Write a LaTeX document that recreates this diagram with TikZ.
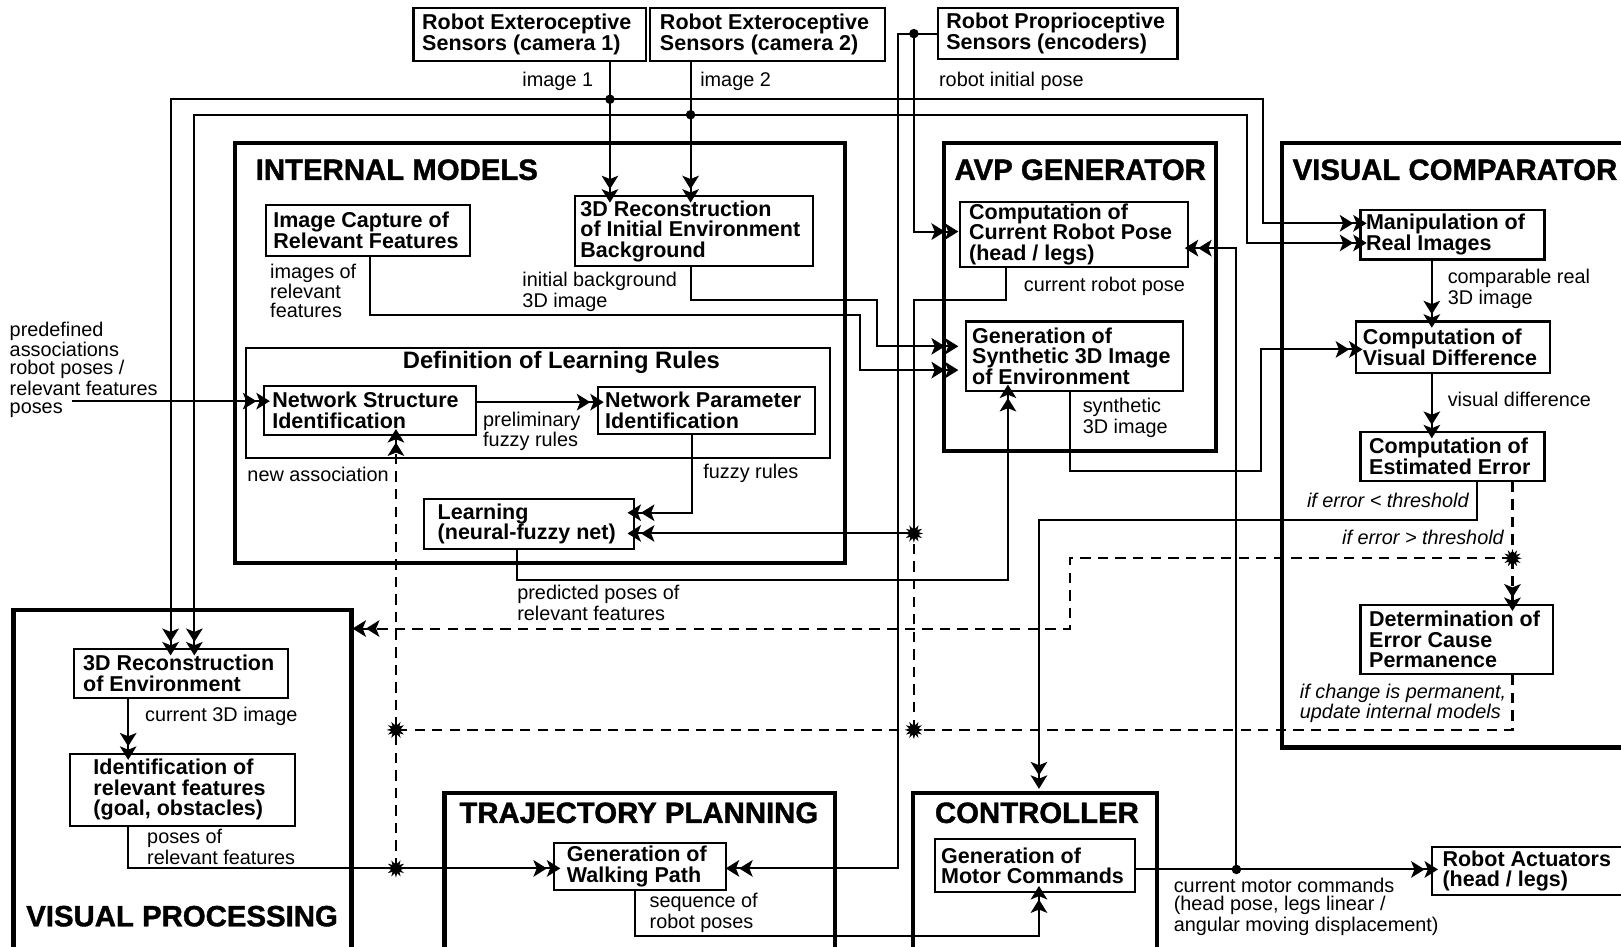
\documentclass[tikz,border=0pt]{standalone}
\usepackage{fontspec}
\setmainfont{Liberation Sans}
\newfontfamily\heavyfont[FakeBold=1.3]{Liberation Sans Bold}
\usetikzlibrary{arrows.meta,shapes.geometric,fit}
\newcommand\bxfont{\bfseries\fontsize{10.4pt}{9.9pt}\selectfont}
\newcommand\lbfont{\fontsize{9.6pt}{8.75pt}\selectfont}
\newcommand\ttlfont{\heavyfont\fontsize{14.2pt}{16pt}\selectfont}
\newcommand\dlrfont{\bfseries\fontsize{11.5pt}{12pt}\selectfont}
\newcommand\mkbox[7]{%
  \node[bx, fit={(#2,#3) (#4,#5)}] (#1) {};
  \node[bt, anchor=west] (#1t) at ([xshift=#6*0.5pt]#1.west) {#7};}
\begin{document}
\begin{tikzpicture}[x=0.5pt,y=-0.5pt,
  bx/.style={draw, line width=1pt, inner sep=0pt},
  cont/.style={draw, line width=2pt, inner sep=0pt},
  bt/.style={font=\bxfont, align=left, inner sep=0pt},
  lb/.style={font=\lbfont, align=left, inner sep=0pt, anchor=north west},
  ttl/.style={font=\ttlfont, inner sep=0pt, anchor=base west},
  ln/.style={line width=1pt},
  ar/.style={line width=1pt, -{Stealth[length=6.5pt,width=8pt,inset=1.6pt]Stealth[length=6.5pt,width=8pt,inset=1.6pt,sep=-3.5pt]}},
  dsh/.style={dash pattern=on 5pt off 3.5pt},
  jstar/.style={star, star points=12, star point ratio=1.9, fill=black, inner sep=0pt, minimum size=9pt},
  dot/.style={circle, fill=black, inner sep=0pt, minimum size=4.6pt}]
\clip (0,0) rectangle (1568,916);
\fill[white] (0,0) rectangle (1568,916);

% containers
\node[cont, fit={(227,138) (817,545)}] (im) {};
\node[cont, fit={(913,138) (1176,436)}] (avp) {};
\node[cont, fit={(1240,138) (1600,723)}] (vc) {};
\node[bx, fit={(238,337) (803,443)}] (dlr) {};
\node[cont, fit={(13,590) (340,940)}] (vp) {};
\node[cont, fit={(430,767) (808,940)}] (tp) {};
\node[cont, fit={(883,767) (1119,940)}] (ct) {};

% titles
\node[ttl] (imT) at (247,174) {INTERNAL MODELS};
\node[ttl] (avpT) at (923,174) {AVP GENERATOR};
\node[ttl] (vcT) at (1250,174) {VISUAL COMPARATOR};
\node[ttl] (vpT) at (25,896) {VISUAL PROCESSING};
\node[ttl] (tpT) at (444,796) {TRAJECTORY PLANNING};
\node[ttl] (ctT) at (904,796) {CONTROLLER};
\node[font=\dlrfont, inner sep=0pt] (dlrT) at (543,351) {Definition of Learning Rules};

% boxes
\mkbox{cam1}{400}{8}{625}{59}{9}{Robot Exteroceptive\\Sensors (camera 1)}
\mkbox{cam2}{629}{8}{856}{59}{10}{Robot Exteroceptive\\Sensors (camera 2)}
\mkbox{prop}{907}{8}{1139}{57}{9}{Robot Proprioceptive\\Sensors (encoders)}
\mkbox{imgcap}{257}{198}{455}{248}{8}{Image Capture of\\Relevant Features}
\mkbox{recon0}{556}{190}{786}{257}{6}{3D Reconstruction\\of Initial Environment\\Background}
\mkbox{ns}{255}{373}{460}{421}{9}{Network Structure\\Identification}
\mkbox{np}{578}{374}{788}{420}{8}{Network Parameter\\Identification}
\mkbox{learn}{410}{483}{613}{531}{14}{Learning\\(neural-fuzzy net)}
\mkbox{pose}{929}{195}{1149}{258}{9}{Computation of\\Current Robot Pose\\(head / legs)}
\mkbox{synth}{934}{311}{1144}{378}{7}{Generation of\\Synthetic 3D Image\\of Environment}
\mkbox{manip}{1316}{203}{1494}{251}{6}{Manipulation of\\Real Images}
\mkbox{vd}{1312}{311}{1499}{361}{7}{Computation of\\Visual Difference}
\mkbox{ee}{1316}{418}{1494}{465}{9}{Computation of\\Estimated Error}
\mkbox{det}{1316}{585}{1502}{652}{9}{Determination of\\Error Cause\\Permanence}
\mkbox{recon}{72}{628}{279}{675}{9}{3D Reconstruction\\of Environment}
\mkbox{ident}{68}{729}{285}{799}{23}{Identification of\\relevant features\\(goal, obstacles)}
\mkbox{walk}{536}{815}{702}{861}{13}{Generation of\\Walking Path}
\mkbox{motor}{904}{812}{1098}{863}{7}{Generation of\\Motor Commands}
\mkbox{act}{1385}{819}{1600}{866}{11}{Robot Actuators\\(head / legs)}

% labels
\node[lb] (l1) at (505,69) {image 1};
\node[lb] (l2) at (677,69) {image 2};
\node[lb] (l3) at (908,69) {robot initial pose};
\node[lb] (l4) at (261,255) {images of\\relevant\\features};
\node[lb] (l5) at (505,263) {initial background\\3D image};
\node[lb] (l6) at (990,268) {current robot pose};
\node[lb] (l7) at (1400,260) {comparable real\\3D image};
\node[lb] (l8) at (9,311) {predefined\\associations\\robot poses /\\relevant features\\poses};
\node[lb] (l9) at (467,398) {preliminary\\fuzzy rules};
\node[lb] (l10) at (239,451) {new association};
\node[lb] (l11) at (680,449) {fuzzy rules};
\node[lb] (l12) at (1047,385) {synthetic\\3D image};
\node[lb] (l13) at (1400,379) {visual difference};
\node[lb, anchor=north east, font=\lbfont\itshape] (l14) at (1421,477) {if error < threshold};
\node[lb, anchor=north east, font=\lbfont\itshape] (l15) at (1455,512) {if error > threshold};
\node[lb] (l16) at (500,566) {predicted poses of\\relevant features};
\node[lb] (l17) at (140,684) {current 3D image};
\node[lb, font=\lbfont\itshape] (l18) at (1257,661) {if change is permanent,\\update internal models};
\node[lb] (l19) at (142,802) {poses of\\relevant features};
\node[lb] (l20) at (628,864) {sequence of\\robot poses};
\node[lb] (l21) at (1135,849) {current motor commands\\(head pose, legs linear /\\angular moving displacement)};

% junction coordinates
\coordinate (j1) at (590,96);
\coordinate (j2) at (668,111);
\coordinate (jp) at (884,32.5);
\coordinate (jm) at (1196,841);
\coordinate (pd) at (70,388);
\coordinate (js1) at (884,516);
\coordinate (js2) at (884,706);
\coordinate (js3) at (383,706);
\coordinate (js4) at (383,840);
\coordinate (js5) at (1463,540);

% camera lines
\draw[ar] (cam1.south -| 590,0) -- (recon0.north -| 590,0);
\draw[ar] (cam2.south -| 668,0) -- (recon0.north -| 668,0);
\draw[ar] (j1) -| (recon.north -| 165,0);
\draw[ar] (j1) -- (1222,96) |- (manip.west |- 0,216);
\draw[ar] (j2) -| (recon.north -| 188,0);
\draw[ar] (j2) -- (1206,111) |- (manip.west |- 0,235);

% proprioceptive
\draw[ar] (prop.west) -| (869,840) -- ([xshift=3pt]walk.east |- 0,840);
\draw[ar] (jp) |- ([xshift=-4pt]pose.west |- 0,224);
\draw[ln] (pose.south -| 973,0) |- (884,290) -- (js1);
\draw[ar] (js1) -- (learn.east |- 0,516);

% internal models to AVP
\draw[ar] (recon0.south -| 668,0) |- (848,290) |- ([xshift=-6.5pt]synth.west |- 0,335);
\draw[ar] (imgcap.south -| 358,0) |- (832,305) |- ([xshift=-6.5pt]synth.west |- 0,358);
\draw[ar] (pd) -- (ns.west |- 0,388);
\draw[ar] (ns.east |- 0,389) -- (np.west |- 0,389);
\draw[ar] (np.south -| 669,0) |- (learn.east |- 0,496);
\draw[ar] (learn.south -| 500,0) |- (975,561) -- (synth.south -| 975,0);

% visual comparator
\draw[ar] (synth.south -| 1035,0) |- (1220,456) |- (vd.west |- 0,338);
\draw[ar] (manip.south -| 1385,0) -- (vd.north -| 1385,0);
\draw[ar] (vd.south -| 1385,0) -- (ee.north -| 1385,0);
\draw[ar] (ee.south -| 1429,0) |- (1005,503) -- ([yshift=4.5pt]ct.north -| 1005,0);

% dashed feedback
\draw[ln, dsh] (ee.south -| 1463,0) -- (js5);
\draw[ar, dsh] (js5) -- (det.north -| 1463,0);
\draw[ar, dsh] (js5) -- (1035,540) -- (1035,608) -- ([xshift=3pt]vp.east |- 0,608);
\draw[ln, dsh] (det.south -| 1463,0) |- (js3);
\draw[ln, dsh] (js2) -- (js1);
\draw[ar, dsh] (js4) -- (ns.south -| 383,0);

% visual processing, trajectory, controller
\draw[ar] (recon.south -| 124,0) -- (ident.north -| 124,0);
\draw[ar] (ident.south -| 124,0) |- (walk.west |- 0,840);
\draw[ar] (walk.south -| 614,0) |- (1005,905) -- (motor.south -| 1005,0);
\draw[ar] (motor.east |- 0,841) -- (act.west |- 0,841);
\draw[ar] (jm) |- ([xshift=1.5pt]pose.east |- 0,240);

% junction marks
\node[dot] (d1) at (j1) {};
\node[dot] (d2) at (j2) {};
\node[dot] (d3) at (jp) {};
\node[dot] (d4) at (jm) {};
\node[jstar] (s1) at (js1) {};
\node[jstar] (s2) at (js2) {};
\node[jstar] (s3) at (js3) {};
\node[jstar] (s4) at (js4) {};
\node[jstar] (s5) at (js5) {};
\end{tikzpicture}
\end{document}
